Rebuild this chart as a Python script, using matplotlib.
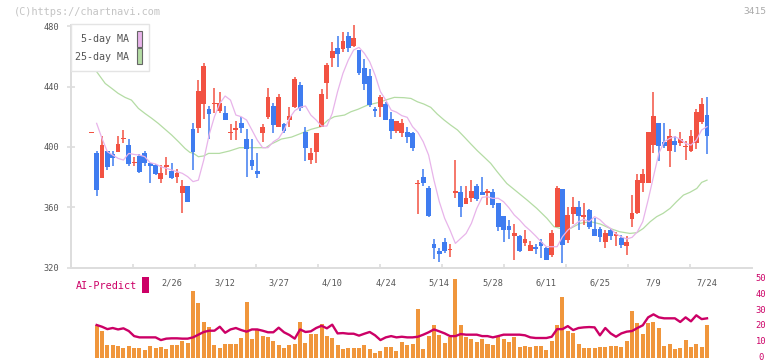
import numpy as np
import matplotlib
matplotlib.use("Agg")
import matplotlib.pyplot as plt
from matplotlib.patches import Rectangle
from matplotlib.transforms import blended_transform_factory

# ---------------- data ----------------
opens = [409, 395.7, 379.6, 397.3, 395.1, 396.8, 405, 401.2, 389.3, 394,
         395.7, 389.5, 388, 378.5, 387, 384, 380.3, 369.7, 374.1, 411.8,
         412.7, 428.4, 425.1, 428.5, 424, 422.2, 409.3, 411.5, 415.6, 405.2,
         391.3, 384, 409.4, 420, 427.1, 413.4, 415.1, 417.8, 426.6, 441,
         409.8, 391.5, 396.8, 413.4, 442.5, 459, 465.5, 465, 473.4, 466.8,
         464.2, 452.2, 446.9, 425.1, 426.2, 428.4, 418.5, 410.7, 409.4, 409.6,
         409, 375.5, 380.3, 373, 335.7, 331.3, 337.2, 331.4, 369.7, 369.9,
         362.2, 365.9, 374.1, 370.3, 369.7, 370.1, 363, 354.2, 347.6, 341.2,
         341, 336.6, 331.3, 333.5, 337.2, 332.8, 328.4, 347.2, 372.1, 338.3,
         355.5, 360, 353.8, 358.2, 345.6, 345.6, 337.2, 344.9, 341.3, 339.4,
         334.6, 352.2, 356.4, 375.8, 375.8, 401.2, 415.6, 403.2, 397.5, 403.9,
         402.8, 399.7, 397.5, 402.8, 416.7, 421.1]
highs = [409, 397.3, 407.2, 397.3, 397.3, 407.2, 411.2, 405.2, 393.5, 395.1,
         397.3, 389.5, 389, 388, 393.5, 389.5, 385.1, 378.1, 374.1, 415.6,
         444.3, 455.8, 427.1, 438.8, 436.6, 427.1, 415.1, 417.1, 420, 411.8,
         405.2, 395.7, 415.1, 438.8, 429.3, 435, 415.6, 426.2, 446.5, 443.2,
         413.4, 399.2, 409.2, 438.3, 455.8, 469.4, 473.4, 476, 475.8, 481.4,
         464.2, 458, 451.3, 426.2, 434.1, 429.9, 422.9, 417.1, 418.5, 412.9,
         409.6, 378, 385.3, 374.1, 339, 332.8, 339.4, 335.7, 391.3, 374.1,
         374.1, 378.1, 375.2, 380.3, 371.9, 372.1, 363, 354.2, 351.6, 348.9,
         341.6, 344.9, 337.9, 335.7, 339, 333.5, 344.9, 374.3, 372.1, 360,
         367, 364.2, 363, 358.9, 352.7, 347.2, 344.9, 345.6, 343.4, 341.6,
         341.2, 368.1, 382, 385.3, 409.8, 436.6, 415.6, 415.6, 411.8, 407.2,
         409.6, 403.9, 411.2, 425.3, 432.1, 433]
lows = [409, 367.7, 379.6, 384.7, 387.5, 396.8, 402.3, 387.5, 387.5, 382.5,
        387.5, 376.3, 381.4, 376.3, 381.4, 378.5, 375.9, 356.4, 363.7, 384.7,
        409, 418.5, 405, 422.2, 422.6, 417.8, 404.5, 404.5, 409, 379.8,
        384.7, 379.6, 403.4, 418.5, 409, 413.4, 409, 413.4, 425.5, 424,
        390.9, 388.7, 389.5, 413.4, 431.9, 453.1, 453.1, 463, 462.8, 465.9,
        447.6, 437.7, 426.2, 420, 420, 417.8, 405.4, 409.4, 406.8, 402.8,
        397.5, 355.5, 374.3, 353.8, 325.5, 323.5, 329.5, 327.3, 365.9, 353.8,
        362.2, 363.7, 364.4, 368.1, 361.5, 359.7, 344.5, 337.2, 339, 325.1,
        330.2, 334.3, 331.3, 329, 326.6, 325.1, 326.8, 347.2, 323.3, 336.6,
        348.9, 344.9, 348.3, 345.4, 341.2, 337.2, 333.2, 338.3, 334.6, 332.8,
        328.4, 347.2, 355.5, 370.3, 375.8, 395.7, 390.9, 399.5, 386.9, 396.8,
        400.8, 391.3, 396.8, 398.6, 415.1, 395.3]
closes = [409, 371.4, 401.2, 386.9, 392.8, 401.9, 405.4, 388.7, 389.8, 383.6,
          389.5, 387.5, 382, 382.5, 387.8, 379.6, 382.5, 374.1, 363.7, 396.8,
          437, 453.6, 421.8, 429, 428.8, 417.8, 409.8, 412, 412.7, 398.8,
          387.5, 382, 413.4, 432.8, 414.5, 432.8, 410.7, 420.4, 444.7, 426,
          399.2, 395.9, 409.2, 435, 454.2, 463.5, 461.5, 470.1, 465.5, 471.9,
          449.1, 441.6, 427.7, 424, 432.8, 417.8, 410.7, 417.1, 415.6, 406.8,
          399.5, 376, 375.8, 354.4, 333.2, 328.8, 331.3, 332, 370.8, 360.4,
          365.9, 370.8, 365.5, 368.1, 370.2, 361.5, 347.2, 344.9, 344.9, 343.2,
          331, 339, 335, 332.6, 334.3, 325.1, 342.7, 373, 335, 354.9,
          360, 354.2, 354.9, 347.2, 341.2, 340.5, 342.7, 341.2, 341.8, 335,
          336.8, 356, 378.1, 382, 409.8, 420.4, 400.8, 400.8, 407.2, 401.2,
          405.2, 400.3, 407.2, 423.1, 428.4, 407.4]

# 5-day moving average (from 2nd candle on)
ma5 = [415.6, 405.6, 396.8, 394.6, 392.4, 391.3, 395.7, 395, 394.6, 393.5,
       389.5, 388.7, 386.9, 385.8, 384.7, 383.6, 382.5, 380.3, 377, 378,
       391.3, 407.9, 420, 428.8, 433.7, 431, 421.1, 420, 417.8, 411.2,
       404.5, 399.5, 399.5, 403.4, 405.6, 411.2, 419, 424, 426.2, 427.1,
       421.1, 417.8, 413.8, 413.8, 422.2, 436.6, 448.7, 457.5, 464.2, 465.9,
       462, 456.4, 447.6, 436.6, 431, 424.4, 423, 420.7, 419.6, 413.4,
       409.6, 403.4, 394.6, 378, 363.7, 352.7, 344.9, 336.1, 339.4, 342.7,
       349.4, 359.3, 366.6, 367, 365.9, 366, 363.7, 359.7, 354.9, 351.6,
       347.6, 344.5, 341, 337.2, 333.9, 333.9, 333.9, 340.5, 344.9, 347.6,
       350.5, 352, 350.5, 353.8, 351.8, 348.3, 346, 342.3, 340.5, 339,
       340.1, 343.8, 350.5, 364.8, 380.3, 395.7, 403.4, 405.6, 406.8, 405,
       402.3, 401.2, 404.5, 411.2, 413.4]

# 25-day moving average, sampled along the line (candle position, value)
ma25_pos = [1, 2.6, 3.8, 5.0, 6.3, 7.5, 8.8, 10.0, 11.3, 12.5, 13.8, 15.0, 16.3,
            17.5, 18.4, 19.1, 20.0, 21.0, 21.9, 23.9, 25.8, 27.7, 30.6, 32.6,
            33.6, 34.5, 35.5, 37.4, 39.2, 41.0, 42.9, 44.2, 45.4, 47.3, 48.5,
            49.8, 51.6, 53.5, 55.4, 56.6, 58.4, 59.7, 60.9, 62.1, 63.4, 64.6,
            65.9, 67.1, 68.4, 69.6, 70.9, 72.1, 73.3, 74.6, 75.8, 77.6, 79.5,
            81.4, 83.2, 85.1, 86.4, 87.6, 89.5, 91.3, 93.2, 95.1, 96.9, 98.7,
            100.6, 101.9, 103.1, 104.4, 105.6, 106.8, 108.1, 109.3, 110.6,
            111.8, 113.1, 114.0, 115.0]
ma25_val = [449.8, 442, 438.8, 435.5, 432.8, 431, 425.5, 422.2, 418.9, 415.6,
            411.6, 407.9, 403.4, 399, 396.4, 395.7, 393.5, 394, 395.7, 395.7,
            397.3, 399.5, 399.5, 399.5, 401.9, 403.4, 405.2, 406.5, 409, 411.6,
            413.4, 417.8, 420, 421.1, 423.3, 424.9, 427.7, 429.3, 431.5, 432.8,
            432.6, 432.1, 429.9, 428.4, 426.2, 421.8, 417.8, 414.5, 411.2,
            406.8, 401.9, 397.5, 393.5, 389.1, 383.6, 375.8, 370.3, 364.8,
            359.3, 352.7, 347.2, 346, 346, 349.4, 350.5, 348.9, 346, 343.8,
            342.7, 343.2, 346, 350.5, 353.8, 356, 359.3, 363.7, 368.1, 369.9,
            372.5, 376.5, 378]

# volume (from 2nd candle on)
volume = [20.6, 16.8, 8, 8, 7.3, 6.3, 7.3, 6.3, 6.3, 4.8,
          7.3, 6.3, 6.7, 5.5, 8, 8, 10.7, 9.4, 42.2, 34.6,
          22.7, 19.3, 8, 6.3, 8.6, 8.6, 8.6, 12.6, 35, 11.8,
          17.4, 13.9, 13.2, 10.7, 8, 6.3, 8, 8.6, 22.7, 9.4,
          14.9, 14.9, 21.2, 13.9, 12.6, 8, 5.5, 6.3, 6.3, 6.3,
          8, 5.5, 3.1, 4.4, 6.7, 6.7, 4.4, 9.9, 8, 8.6,
          30.6, 5.5, 13.6, 20.6, 14.3, 9.2, 13, 49.5, 20.6, 13,
          11.8, 9.9, 11.8, 8.6, 8, 13.6, 11.8, 9.9, 13, 6.7,
          7.3, 6.7, 7.3, 7.3, 4.8, 10.5, 20.6, 38.2, 16.8, 15.5,
          8.6, 6.1, 6.1, 6.1, 6.7, 6.7, 7.3, 7.3, 6.7, 10.5,
          29.4, 21.8, 14.9, 21.8, 22.5, 18.7, 7.3, 8.6, 5.5, 6.1,
          11.1, 6.7, 8.6, 6.7, 20.6]

# AI-Predict (from 2nd candle on)
ai_predict = [20.6, 19.5, 18, 18.7, 17.8, 18.5, 16.8, 13.6, 12.8, 12.8,
              12.8, 12.8, 11.1, 12, 12.2, 12.2, 12, 12, 12.8, 14.5,
              16.2, 17, 17, 19.5, 15.7, 17.8, 18.7, 17.4, 16.4, 17.8,
              17.8, 17, 16, 16, 18.9, 16, 14.3, 12, 17.8, 16.2,
              16.6, 18.7, 20.1, 18.5, 20.8, 15.3, 15.5, 15.1, 15.1, 13.9,
              15.1, 16.2, 14.1, 11.1, 12.8, 13.6, 12.8, 13.2, 12.8, 12.8,
              13.2, 14.5, 16, 17.8, 16.6, 15.3, 13.6, 13.6, 14.9, 14.5,
              14.5, 14.5, 13.6, 13.6, 12.8, 13.6, 14.5, 14.5, 14.5, 14.5,
              14.1, 12.8, 12.4, 12.4, 12.4, 13.2, 18, 18, 19.9, 17.4,
              18.7, 19.1, 19.3, 19.1, 14.1, 18.7, 15.3, 13.2, 15.3, 16.4,
              16.8, 18.7, 20.4, 25.4, 27.3, 25.4, 24.8, 24.8, 24.8, 22.5,
              25.4, 22.9, 26.7, 24.3, 24.8]

date_labels = ["2/26", "3/12", "3/27", "4/10", "4/24", "5/14",
               "5/28", "6/11", "6/25", "7/9", "7/24"]
date_label_pos = [15, 25, 35, 45, 55, 65, 75, 85, 95, 105, 115]
price_ticks = [320, 360, 400, 440, 480]
ai_ticks = [0, 10, 20, 30, 40, 50]

# ---------------- styling ----------------
RED = "#f25242"
BLUE = "#3f7cf0"
ORANGE = "#f0963c"
CRIMSON = "#cc0066"
PINK = "#e8b4ea"
GREEN = "#b4dca4"
GRAY_TXT = "#555555"
AXIS = "#dddddd"
MONO = "DejaVu Sans Mono"

W, H = 772, 361
fig = plt.figure(figsize=(W / 100, H / 100), dpi=100)
fig.patch.set_facecolor("white")

def fx(px):
    return px / W

def fy(py):
    return 1 - py / H

X_LEFT, X_RIGHT = 70.7, 751.7
X0, DX = 91.3, 5.354
xlim = ((X_LEFT - X0) / DX, (X_RIGHT - X0) / DX)

# main price axes
Y320, Y_TOP = 267.7, 24.6
ax = fig.add_axes([fx(X_LEFT), fy(Y320), (X_RIGHT - X_LEFT) / W, (Y320 - Y_TOP) / H])
ax.set_xlim(xlim)
ax.set_ylim(320, 481)
for s in ["top", "right"]:
    ax.spines[s].set_visible(False)
ax.spines["left"].set_color(AXIS)
ax.spines["bottom"].set_color(AXIS)
ax.spines["left"].set_linewidth(1.4)
ax.spines["bottom"].set_linewidth(1.4)
ax.set_yticks(price_ticks)
ax.set_yticklabels([str(t) for t in price_ticks], fontsize=6.2, color=GRAY_TXT, family=MONO)
ax.tick_params(axis="y", direction="inout", length=6, width=1.2, color=AXIS, pad=5)
xt = np.linspace(xlim[0], xlim[1], 12)[1:-1]
ax.set_xticks(xt)
ax.set_xticklabels([])
ax.tick_params(axis="x", direction="in", length=3, width=1.2, color=AXIS)

idx = np.arange(len(opens))
o = np.array(opens); h = np.array(highs); l = np.array(lows); c = np.array(closes)
cols = [RED if cc >= oo else BLUE for oo, cc in zip(o, c)]
ax.vlines(idx, l, h, colors=cols, linewidth=1.1, zorder=3)
bottoms = np.minimum(o, c)
heights = np.maximum(np.abs(c - o), 0.8)
ax.bar(idx, heights, bottom=bottoms, width=0.9, color=cols, linewidth=0, zorder=4)

ax.plot(idx[1:], ma5, color=PINK, lw=0.9, zorder=5)
ax.plot(ma25_pos, ma25_val, color=GREEN, lw=0.9, zorder=2)

# legend box
fig.patches.append(Rectangle((fx(70.5), fy(71)), 78 / W, 47 / H, transform=fig.transFigure,
                             facecolor="white", edgecolor="#e4e4e4", lw=1.0, zorder=10))
fig.text(fx(129), fy(39.5), "5-day MA", ha="right", va="center", fontsize=7.2,
         color=GRAY_TXT, family=MONO, zorder=11)
fig.text(fx(129), fy(57), "25-day MA", ha="right", va="center", fontsize=7.2,
         color=GRAY_TXT, family=MONO, zorder=11)
fig.patches.append(Rectangle((fx(136.5), fy(46.5)), 5.5 / W, 15 / H, transform=fig.transFigure,
                             facecolor=PINK, edgecolor="#666666", lw=0.8, zorder=11))
fig.patches.append(Rectangle((fx(136.5), fy(63.5)), 5.5 / W, 15 / H, transform=fig.transFigure,
                             facecolor=GREEN, edgecolor="#666666", lw=0.8, zorder=11))

# date labels
tr = blended_transform_factory(ax.transData, fig.transFigure)
for p, lab in zip(date_label_pos, date_labels):
    ax.text(p, fy(282.5), lab, transform=tr, ha="center", va="center",
            fontsize=6.2, color=GRAY_TXT, family=MONO, clip_on=False)

# lower panel: volume + AI-Predict
Y0, Y50 = 357.7, 278.3
ax2 = fig.add_axes([fx(X_LEFT), fy(Y0), (X_RIGHT - X_LEFT) / W, (Y0 - Y50) / H])
ax2.set_xlim(xlim)
ax2.set_ylim(0, 50)
ax2.patch.set_alpha(0)
for s in ax2.spines.values():
    s.set_visible(False)
ax2.set_xticks([])
ax2.set_yticks([])
ax2.bar(idx[1:], volume, width=0.75, color=ORANGE, linewidth=0, zorder=2, clip_on=False)
ax2.plot(idx[1:], ai_predict, color=CRIMSON, lw=1.7, zorder=3, clip_on=False)
tr2 = blended_transform_factory(fig.transFigure, ax2.transData)
for t in ai_ticks:
    ax2.text(fx(761), t, str(t), transform=tr2, ha="center", va="center",
             fontsize=6.3, color=CRIMSON, family=MONO, clip_on=False)

fig.text(fx(75.5), fy(286), "AI-Predict", ha="left", va="center", fontsize=7.3,
         color=CRIMSON, family=MONO)
fig.patches.append(Rectangle((fx(142.3), fy(292.7)), 6.4 / W, 16 / H, transform=fig.transFigure,
                             facecolor=CRIMSON, edgecolor="none"))

# header texts
fig.text(fx(14), fy(12.3), "(C)https://chartnavi.com", ha="left", va="center", fontsize=7.4,
         color="#c4c4c4", family=MONO)
fig.text(fx(766), fy(12), "3415", ha="right", va="center", fontsize=6.8,
         color="#aaaaaa", family=MONO)

fig.savefig("out.png", dpi=100, facecolor="white")
